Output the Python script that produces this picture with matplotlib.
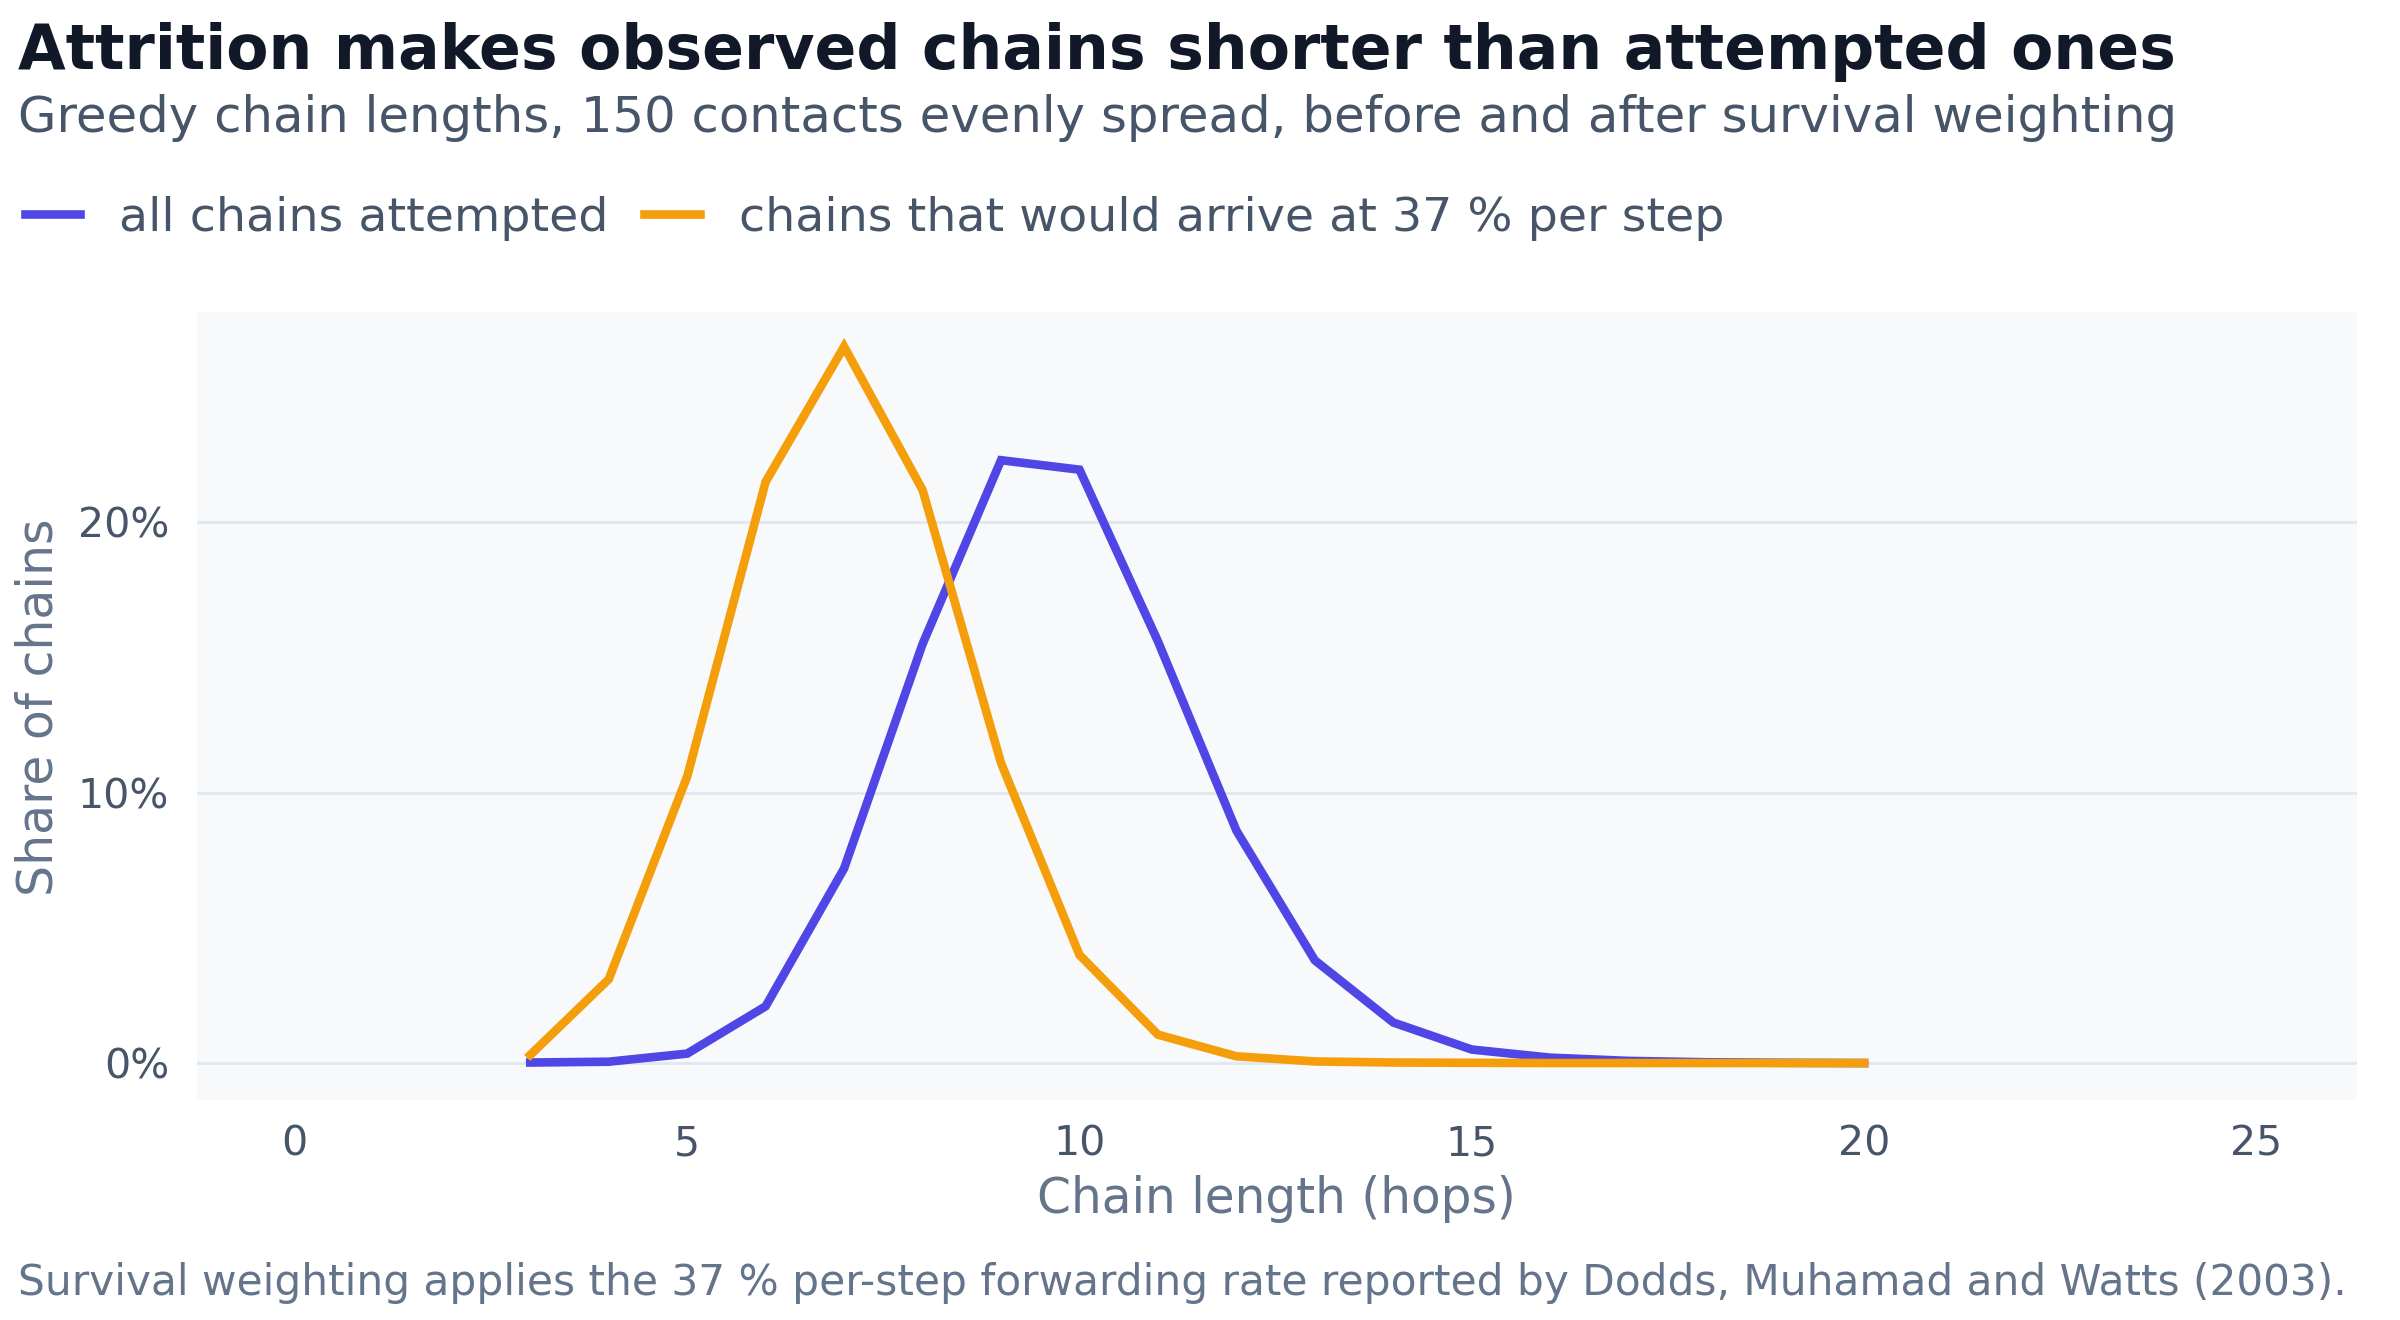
import matplotlib
matplotlib.use("Agg")
import matplotlib.pyplot as plt
from matplotlib.ticker import FuncFormatter, MultipleLocator

hops = list(range(3, 21))
all_attempted = [0.02, 0.05, 0.35, 2.1, 7.2, 15.5, 22.3, 21.95, 15.6, 8.6, 3.8,
                 1.5, 0.5, 0.2, 0.08, 0.03, 0.01, 0.0]
survivors = [0.3, 3.1, 10.6, 21.5, 26.5, 21.2, 11.1, 4.0, 1.05, 0.25, 0.06,
             0.02, 0.01, 0.0, 0.0, 0.0, 0.0, 0.0]

series_labels = ["all chains attempted", "chains that would arrive at 37 % per step"]
title = "Attrition makes observed chains shorter than attempted ones"
subtitle = "Greedy chain lengths, 150 contacts evenly spread, before and after survival weighting"
caption = "Survival weighting applies the 37 % per-step forwarding rate reported by Dodds, Muhamad and Watts (2003)."
x_label = "Chain length (hops)"
y_label = "Share of chains"

BLUE = "#4f46e5"
ORANGE = "#f59e0b"
plt.rcParams['font.family'] = ['DejaVu Sans']

fig = plt.figure(figsize=(12, 6.6), dpi=200)
ax = fig.add_axes([0.082, 0.167, 0.900, 0.597])
ax.set_facecolor("#f8f9fb")
for s in ax.spines.values():
    s.set_visible(False)

l1, = ax.plot(hops, all_attempted, color=BLUE, lw=3.1, solid_joinstyle="miter", label=series_labels[0])
l2, = ax.plot(hops, survivors, color=ORANGE, lw=3.1, solid_joinstyle="miter", label=series_labels[1])

ax.set_xlim(-1.25, 26.28)
ax.set_ylim(-1.35, 27.8)
ax.xaxis.set_major_locator(MultipleLocator(5))
ax.set_yticks([0, 10, 20])
ax.yaxis.set_major_formatter(FuncFormatter(lambda v, p: f"{v:.0f}%"))
ax.grid(axis="y", color="#e2e6f0", lw=1.0)
ax.set_axisbelow(True)
ax.tick_params(length=0, labelsize=14.8, labelcolor="#475569")
ax.tick_params(axis="x", pad=9)
ax.tick_params(axis="y", pad=10)

fig.text(0.5318, 0.0920, x_label, ha="center", va="center", fontsize=17.5, color="#64748b")
fig.text(0.0160, 0.464, y_label, ha="center", va="center", rotation=90, fontsize=17.6, color="#64748b")

fig.text(0.0077, 0.9476, title, ha="left", va="baseline", fontsize=22.2, fontweight="bold", color="#111827")
fig.text(0.0077, 0.8998, subtitle, ha="left", va="baseline", fontsize=17.9, color="#475569")
fig.text(0.0077, 0.0279, caption, ha="left", va="center", fontsize=15.2, color="#64748b")

fig.legend(handles=[l1, l2], loc="center left", bbox_to_anchor=(0.0103, 0.8345), ncol=2,
           frameon=False, fontsize=17.1, labelcolor="#475569", handlelength=1.17,
           handletextpad=0.82, columnspacing=0.75, borderaxespad=0.0, borderpad=0.0)

fig.savefig("out.png", dpi=200, facecolor="white")
